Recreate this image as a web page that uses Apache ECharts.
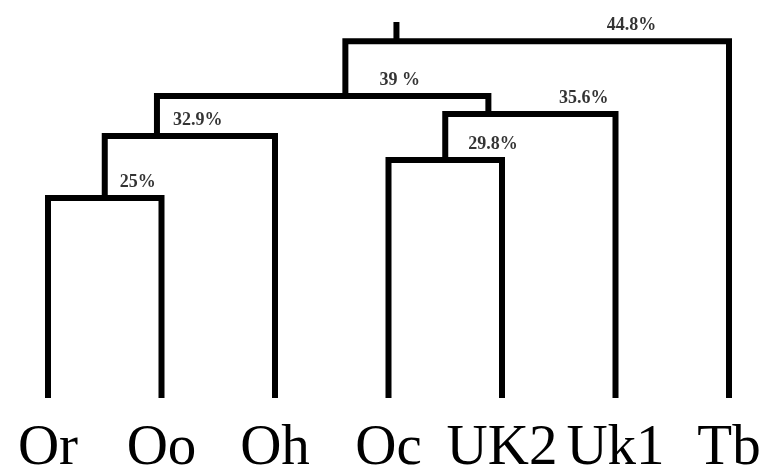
<!DOCTYPE html>
<html>
<head>
<meta charset="utf-8">
<script src="https://cdn.jsdelivr.net/npm/echarts@6/dist/echarts.min.js"></script>
<style>
  html, body { margin: 0; padding: 0; background: #fff; }
  #chart { width: 761px; height: 471px; }
</style>
</head>
<body>
<div id="chart"></div>
<script>
// leaves, left to right
var leaves = ['Or', 'Oo', 'Oh', 'Oc', 'UK2', 'Uk1', 'Tb'];

// merges: child ids (0..6 leaves, 7.. merges in this order)
var mergeLeft = [0, 7, 3, 9, 8, 11];
var mergeRight = [1, 2, 4, 5, 10, 6];
// height of each merge line
var mergeHeight = [25, 32.75, 29.75, 35.5, 37.75, 44.6];
// where the stem of each merge sits (in leaf units)
var mergeX = [0.5, 0.96, 3.5, 3.88, 2.62, 3.07];
var mergeLabel = ['25%', '32.9%', '29.8%', '35.6%', '39 %', '44.8%'];
var labelX = [0.79, 1.32, 3.92, 4.72, 3.1, 5.14];
var rootTop = 47;

var chart = echarts.init(document.getElementById('chart'));

function nodeX(id) {
    return id < leaves.length ? id : mergeX[id - leaves.length];
}
function nodeH(id) {
    return id < leaves.length ? 0 : mergeHeight[id - leaves.length];
}

var series = [];
var lineStyle = { color: '#000', width: 6, join: 'miter', cap: 'butt' };

for (var i = 0; i < mergeHeight.length; i++) {
    var l = mergeLeft[i], r = mergeRight[i], h = mergeHeight[i];
    series.push({
        type: 'line',
        data: [[nodeX(l), nodeH(l)], [nodeX(l), h], [nodeX(r), h], [nodeX(r), nodeH(r)]],
        symbol: 'none',
        lineStyle: lineStyle,
        silent: true,
        animation: false
    });
}

// stem above the root
var rootId = leaves.length + mergeHeight.length - 1;
series.push({
    type: 'line',
    data: [[nodeX(rootId), nodeH(rootId)], [nodeX(rootId), rootTop]],
    symbol: 'none',
    lineStyle: lineStyle,
    silent: true,
    animation: false
});

// percentage labels
series.push({
    type: 'scatter',
    symbolSize: 0,
    silent: true,
    animation: false,
    data: mergeHeight.map(function (h, i) {
        return { value: [labelX[i], h], name: mergeLabel[i] };
    }),
    label: {
        show: true,
        position: 'top',
        distance: 7,
        formatter: '{b}',
        color: '#000',
        fontFamily: 'Liberation Serif',
        fontWeight: 'bold',
        fontSize: 18
    }
});

var option = {
    backgroundColor: '#fff',
    grid: { left: 48, right: 32, top: 22, bottom: 73, containLabel: false, outerBoundsMode: 'none' },
    xAxis: {
        type: 'value',
        min: 0,
        max: leaves.length - 1,
        interval: 1,
        axisLine: { show: false },
        axisTick: { show: false },
        splitLine: { show: false },
        axisLabel: {
            margin: 23,
            color: '#000',
            fontFamily: 'Liberation Serif',
            fontSize: 57,
            formatter: function (v) { return leaves[v] || ''; }
        }
    },
    yAxis: {
        type: 'value',
        min: 0,
        max: rootTop,
        show: false
    },
    series: series
};

chart.setOption(option);
</script>
</body>
</html>
